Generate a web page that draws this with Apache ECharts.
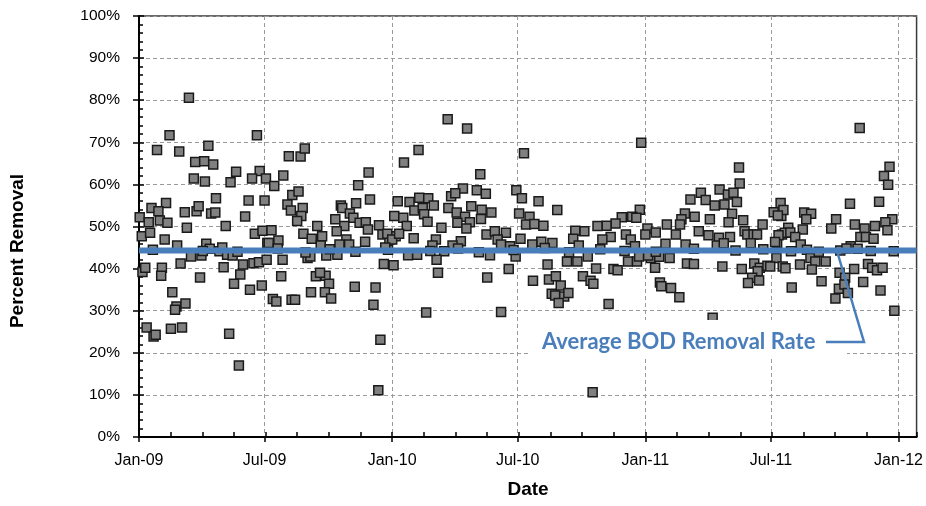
<!DOCTYPE html>
<html><head><meta charset="utf-8">
<script src="https://cdn.jsdelivr.net/npm/echarts@6/dist/echarts.min.js"></script>
<style>html,body{margin:0;padding:0;background:#fff}#c{width:926px;height:506px}</style>
</head><body><div id="c"></div>
<script>
// Days since 1 Jan 2009 for each sample, and its percent removal
const DAYS = [
72,44,170,26,58,100,81,94,107,140,174,79,95,132,163,183,111,158,181,18,39,28,66,83,86,104,110,153,1,14,30,41,69,125,4,16,37,55,167,178,185,97,102,116,75,90,127,135,60,5,9,33,32,88,122,150,146,165,173,184,137,160,177,48,54,52,67,11,21,24,46,62,130,144,
216,233,239,208,195,331,316,221,230,214,219,236,234,228,291,293,313,333,373,283,304,309,296,318,327,330,346,368,191,201,187,257,237,249,264,262,285,299,303,326,289,351,361,370,359,207,243,247,270,286,353,367,205,255,269,261,274,248,268,277,311,341,338,193,198,220,225,348,345,
445,473,403,382,492,555,467,487,500,544,552,390,404,417,425,397,409,411,450,456,446,458,470,479,494,508,493,381,386,416,436,459,477,472,358,365,375,396,428,464,452,423,440,501,513,529,517,522,535,550,388,401,429,506,543,431,502,533,414,522,
724,576,603,548,563,558,570,583,722,696,711,717,687,674,661,642,629,733,730,580,596,567,626,680,668,702,709,715,634,617,632,647,705,718,721,738,589,659,684,690,568,591,601,640,651,655,608,595,600,613,619,605,677,654,
865,866,810,837,849,857,795,817,830,844,862,925,787,782,801,823,855,850,871,915,926,899,761,780,745,774,807,821,836,852,873,877,886,891,927,759,788,833,843,882,920,734,750,765,790,800,744,841,869,887,895,906,919,928,892,884,878,894,751,753,767,779,827,
1039,1082,1074,1080,929,921,1025,1067,959,969,962,1005,1086,1076,998,1032,1061,1079,1046,957,936,931,922,939,946,917,954,1040,1048,1059,1026,1036,1011,963,940,1088,968,975,990,910,932,953,970,1031,1051,1057,1064,1072,1010,1018,984,1044,941,1009,1017,1022,1004,1069,1089,
20,92,120,142,200,240,275,312,355,420,460,490,540,585,620,665,700,745,800,860,900,980,1020,1055
];
const VALS = [
80.6,71.7,71.7,68.2,67.8,69.2,65.3,65.5,64.7,63.0,63.2,61.4,60.7,60.5,61.4,61.4,56.7,56.2,56.2,54.4,55.6,53.6,53.4,53.6,54.8,53.1,53.3,52.4,52.2,51.0,51.4,50.9,49.7,50.1,47.7,48.5,46.9,45.5,48.3,49.0,46.1,45.9,44.7,44.1,42.9,43.1,43.3,43.1,41.2,39.2,40.2,40.2,38.3,37.9,40.3,41.0,38.6,41.3,41.5,42.1,36.4,35.0,36.0,34.4,31.0,30.2,31.7,26.0,23.9,24.3,25.7,26.0,24.5,17.0,
66.7,66.6,68.5,62.1,59.6,62.8,59.8,57.5,58.3,55.2,53.8,54.4,52.5,51.3,55.0,54.4,55.5,56.4,56.0,51.7,53.1,52.1,50.1,50.9,51.0,49.3,50.3,52.5,49.1,46.7,46.1,50.1,48.3,47.1,47.7,45.5,48.9,46.9,45.7,46.4,45.7,48.1,46.9,47.7,44.5,42.1,42.5,42.9,43.1,43.3,41.1,40.8,38.2,38.2,38.3,39.0,36.4,34.4,34.4,32.9,35.7,35.5,31.4,32.8,32.2,32.6,32.6,23.1,11.1,
75.5,73.3,68.2,65.2,62.4,67.4,59.0,58.6,57.8,58.6,56.7,55.8,56.8,56.7,55.0,53.8,54.4,52.9,57.2,57.9,54.4,53.3,52.3,54.8,54.0,53.3,51.8,52.1,50.1,51.1,49.7,50.9,51.0,49.5,48.3,46.9,48.3,47.2,46.9,46.5,45.5,45.5,44.1,48.1,48.9,48.5,46.9,45.7,45.3,47.1,43.2,43.3,42.1,43.2,42.9,39.0,37.9,39.9,29.6,29.7,
69.9,56.0,53.9,53.1,52.3,50.5,50.6,50.2,54.0,52.2,52.3,52.1,50.7,50.2,50.1,48.9,49.0,49.5,48.1,46.4,46.1,45.7,47.1,47.5,46.9,48.1,46.9,45.3,45.5,41.7,41.7,42.9,41.7,41.7,42.9,42.5,41.0,40.0,39.9,39.6,37.1,37.4,38.2,38.2,37.1,36.4,36.0,34.0,33.6,33.4,34.2,31.8,31.6,10.6,
64.0,60.2,58.0,58.8,57.6,58.0,56.4,56.3,55.0,55.2,55.8,55.6,53.1,51.7,52.3,51.7,53.0,51.0,51.5,53.4,52.5,50.5,50.5,50.5,48.6,48.1,48.9,47.9,47.3,47.5,48.9,48.1,48.1,48.1,48.1,45.9,45.7,45.5,46.0,46.0,46.1,43.1,42.8,42.5,41.2,41.1,40.2,40.5,39.9,41.2,40.2,40.7,42.5,40.5,39.4,37.8,36.6,37.2,36.7,35.8,35.4,33.2,28.3,
73.4,64.2,62.0,59.9,53.9,52.6,55.4,55.9,53.3,53.0,51.7,51.7,51.7,51.0,49.5,50.5,50.1,49.1,49.5,49.3,49.7,48.5,47.9,48.6,47.5,46.3,45.7,47.5,47.5,47.1,45.3,44.7,44.3,44.5,44.1,44.1,42.5,41.7,41.7,40.5,40.1,41.0,39.8,39.9,41.1,40.2,39.6,40.2,39.0,37.8,37.0,36.8,35.5,35.2,36.2,34.2,32.9,34.8,30.0,
44.5,44.2,45.0,44.0,44.8,43.8,44.6,44.0,45.0,44.2,44.8,43.9,44.4,44.9,43.9,44.6,44.2,44.0,44.7,44.3,44.6,44.0,44.8,44.2
];
const AVG = 44.3;                                   // average BOD removal rate (%)
const Y_MIN = 0, Y_MAX = 100, Y_STEP = 10;
const X_MIN = 0, X_MAX = 1121;                      // days since 1 Jan 2009 (axis ends ~27 Jan 2012)
const TICK_DAYS = [0, 181, 365, 546, 730, 911, 1095];
const TICK_LABELS = ['Jan-09', 'Jul-09', 'Jan-10', 'Jul-10', 'Jan-11', 'Jul-11', 'Jan-12'];
const MINOR_STEP = 45.625;                          // quarter of a half-year
const LEADER_DAY = 1006;
const LABEL_TEXT = 'Average BOD Removal Rate';

const font = "'Liberation Sans', Arial, sans-serif";
const pts = DAYS.map((d, i) => [d, VALS[i]]);

const chart = echarts.init(document.getElementById('c'), null, {renderer: 'canvas'});
const dash = {color: '#9a9a9a', type: [4, 3], width: 1};
const blk = {color: '#000', width: 1.5};
chart.setOption({
  animation: false,
  grid: {left: 139, top: 16, width: 779, height: 421, show: true, borderColor: '#3a3a3a', borderWidth: 1.5, backgroundColor: 'transparent'},
  xAxis: [{
    type: 'value', min: X_MIN, max: X_MAX,
    axisLine: {onZero: false, lineStyle: {color: '#000', width: 2}},
    axisTick: {show: true, inside: false, length: 5, customValues: TICK_DAYS, lineStyle: blk},
    axisLabel: {customValues: TICK_DAYS, color: '#000', fontFamily: font, fontSize: 16, margin: 16,
      formatter: v => TICK_LABELS[TICK_DAYS.indexOf(v)] || ''},
    splitLine: {show: true, lineStyle: dash}
  }, {
    type: 'value', min: X_MIN, max: X_MAX, interval: MINOR_STEP, position: 'bottom',
    axisLine: {show: false, onZero: false},
    axisTick: {show: true, inside: true, length: 5, lineStyle: blk},
    axisLabel: {show: false}, splitLine: {show: false}
  }],
  yAxis: [{
    type: 'value', min: Y_MIN, max: Y_MAX, interval: Y_STEP,
    axisLine: {show: true, onZero: false, lineStyle: {color: '#000', width: 2}},
    axisTick: {show: true, inside: true, length: 5, lineStyle: blk},
    minorTick: {show: true, splitNumber: 5, length: 4, lineStyle: blk},
    axisLabel: {formatter: '{value}%', color: '#000', fontFamily: font, fontSize: 15.5, margin: 19},
    splitLine: {show: true, lineStyle: dash}
  }, {
    type: 'value', min: Y_MIN, max: Y_MAX, interval: Y_STEP, position: 'left',
    axisLine: {show: false, onZero: false},
    axisTick: {show: true, inside: false, length: 6, lineStyle: blk},
    axisLabel: {show: false}, splitLine: {show: false}
  }],
  series: [{
    type: 'scatter', xAxisIndex: 0, yAxisIndex: 0, symbol: 'rect', symbolSize: 9,
    data: pts, z: 2,
    itemStyle: {color: '#808080', borderColor: '#1a1a1a', borderWidth: 1.5, opacity: 1}
  }, {
    type: 'line', xAxisIndex: 0, yAxisIndex: 0, data: [[X_MIN, AVG], [X_MAX, AVG]],
    symbol: 'none', silent: true, z: 3,
    lineStyle: {color: '#4A7EBB', width: 6}
  }]
});

const tgt = chart.convertToPixel({xAxisIndex: 0, yAxisIndex: 0}, [LEADER_DAY, AVG]);
chart.setOption({
  graphic: [
    {type: 'rect', shape: {x: 528, y: 320, width: 319, height: 37}, style: {fill: '#fff'}, z: 10, silent: true},
    {type: 'text', x: 542, y: 342, z: 11, style: {text: LABEL_TEXT, fill: '#4A7EBB', font: "bold 22px Lato, 'Open Sans', sans-serif", verticalAlign: 'middle', align: 'left'}},
    {type: 'polyline', z: 11, shape: {points: [[826, 342], [864, 342], [tgt[0], tgt[1]]]}, style: {stroke: '#4A7EBB', lineWidth: 2.5, fill: null}},
    {type: 'text', x: 18, y: 251, rotation: Math.PI / 2, z: 11, style: {text: 'Percent Removal', fill: '#000', font: "bold 19px " + font, align: 'center', verticalAlign: 'middle'}},
    {type: 'text', x: 528, y: 490, z: 11, style: {text: 'Date', fill: '#000', font: "bold 19px " + font, align: 'center', verticalAlign: 'middle'}}
  ]
});
</script></body></html>
